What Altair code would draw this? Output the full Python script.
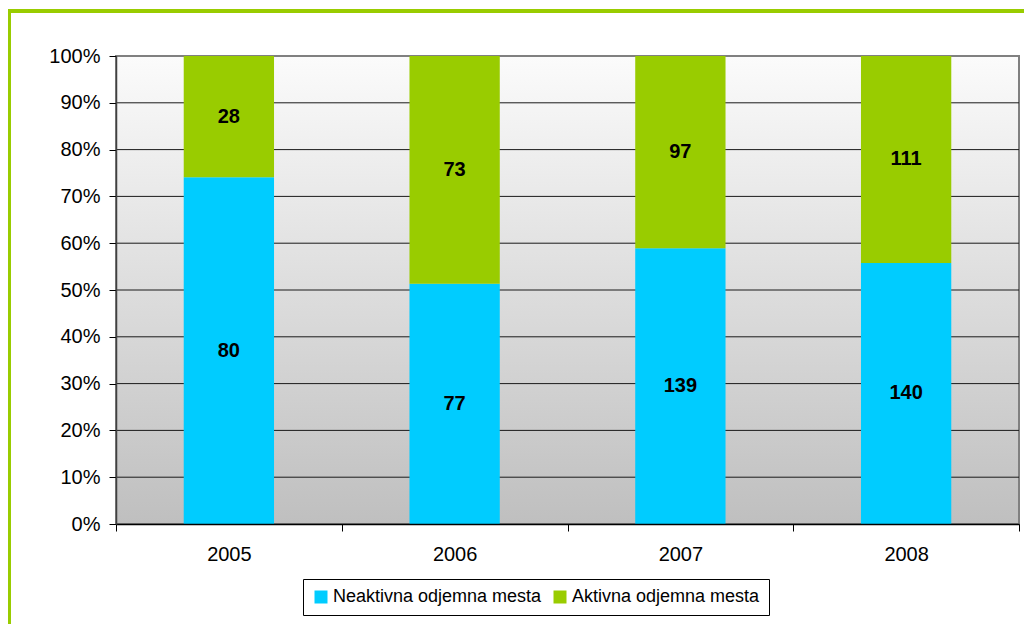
import altair as alt
import pandas as pd

years = ["2005", "2006", "2007", "2008"]
neaktivna = [80, 77, 139, 140]
aktivna = [28, 73, 97, 111]
series = ["Neaktivna odjemna mesta", "Aktivna odjemna mesta"]
colors = ["#00ccff", "#99cc00"]
ytick_values = [0.0, 0.1, 0.2, 0.3, 0.4, 0.5, 0.6, 0.7, 0.8, 0.9, 1.0]
grid_values = [0.1, 0.2, 0.3, 0.4, 0.5, 0.6, 0.7, 0.8, 0.9]

rows = []
for i, y in enumerate(years):
    rows.append({"year": y, "series": series[0], "count": neaktivna[i], "ord": 0})
    rows.append({"year": y, "series": series[1], "count": aktivna[i], "ord": 1})
df = pd.DataFrame(rows)

W, H = 903, 468
FONT = "Liberation Sans"

yscale = alt.Scale(domain=[0, 1], nice=False)
yaxis = alt.Axis(format="%", values=ytick_values, tickSize=7, zindex=1,
                 tickColor="#000000", domainColor="#404040", domainWidth=1.5,
                 labelFontSize=20, labelColor="#000000", labelFont=FONT,
                 labelPadding=9, grid=False, title=None)

base = alt.Chart(df).transform_stack(
    stack="count", groupby=["year"], as_=["y0", "y1"], offset="normalize",
    sort=[alt.SortField("ord", order="ascending")]
).transform_calculate(mid="(datum.y0 + datum.y1) / 2")

xenc = alt.X("year:N", title=None, sort=years,
             scale=alt.Scale(paddingInner=0, paddingOuter=0),
             axis=alt.Axis(labelAngle=0, tickBand="extent", tickSize=7, tickColor="#000000",
                           domainColor="#000000", domainWidth=1.5, zindex=1,
                           labelFontSize=20, labelColor="#000000",
                           labelFont=FONT, labelPadding=13, grid=False))

background = alt.Chart(pd.DataFrame({"a": [0]})).mark_rect(
    color=alt.Gradient(gradient="linear",
                       stops=[alt.GradientStop(color="#fbfbfb", offset=0),
                              alt.GradientStop(color="#bfbfbf", offset=1)],
                       x1=0, x2=0, y1=0, y2=1),
    stroke="#808080", strokeWidth=2
).encode(x=alt.value(0), x2=alt.value(W), y=alt.value(0), y2=alt.value(H))

frame = alt.Chart(pd.DataFrame({"a": [0]})).mark_rect(
    fill=None, stroke="#99cc00", strokeWidth=4
).encode(x=alt.value(-107), x2=alt.value(1200), y=alt.value(-45), y2=alt.value(900))

grid = alt.Chart(pd.DataFrame({"g": grid_values})).mark_rule(
    color="#1a1a1a", strokeWidth=1
).encode(y=alt.Y("g:Q", scale=yscale, axis=yaxis))

bars = base.mark_bar(width={"band": 0.4}).encode(
    x=xenc,
    y=alt.Y("y0:Q", scale=yscale, axis=yaxis),
    y2="y1:Q",
    color=alt.Color("series:N", sort=series,
                    scale=alt.Scale(domain=series, range=colors),
                    legend=alt.Legend(title=None, orient="none", direction="horizontal",
                                      legendX=187, legendY=523, symbolType="square",
                                      symbolSize=169, symbolStrokeWidth=0, labelFontSize=18,
                                      labelFont=FONT, labelColor="#000000", labelLimit=400,
                                      strokeColor="#000000", fillColor="#ffffff",
                                      padding=9, columnPadding=9, symbolOffset=0,
                                      labelOffset=3)),
    order=alt.Order("ord:Q"),
)

labels = base.mark_text(fontSize=20, fontWeight="bold", font=FONT, color="#000000").encode(
    x=alt.X("year:N", sort=years),
    y=alt.Y("mid:Q", scale=yscale, axis=yaxis),
    text=alt.Text("count:Q"),
)

chart = alt.layer(frame, background, grid, bars, labels).properties(
    width=W, height=H,
    autosize=alt.AutoSizeParams(type="none"),
    padding={"left": 108, "top": 48, "right": 5, "bottom": 100},
).configure_view(stroke=None).configure(background="#ffffff")

chart.save("out.html", embed_options={"renderer": "svg", "actions": False})
